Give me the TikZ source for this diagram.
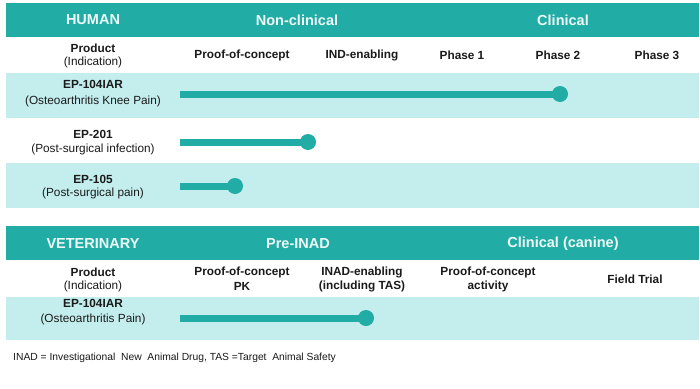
\documentclass[tikz,border=0pt]{standalone}
\usepackage{fontspec}
\setmainfont{Liberation Sans}
\definecolor{teal}{HTML}{22ACA6}
\definecolor{lightrow}{HTML}{C4EEEE}
\definecolor{headtxt}{HTML}{EEFAF8}
\definecolor{txt}{HTML}{1A1A1A}
\begin{document}
\begin{tikzpicture}[x=1pt,y=-1pt,
  band/.style={fill=teal,draw=none},
  lrow/.style={fill=lightrow,draw=none},
  htext/.style={text=headtxt,font=\fontsize{14.5}{17}\selectfont\bfseries,inner sep=0pt},
  ctext/.style={text=txt,font=\fontsize{11.8}{14}\selectfont\bfseries,inner sep=0pt},
  rtext/.style={text=txt,font=\fontsize{11.8}{14}\selectfont,inner sep=0pt},
  ftext/.style={text=txt,font=\fontsize{10.3}{12}\selectfont,inner sep=0pt,anchor=west},
  bar/.style={draw=teal,line width=7pt},
  dot/.style={circle,fill=teal,minimum size=16pt,inner sep=0pt,draw=none}]
\useasboundingbox (0,0) rectangle (700,388);
\fill[white] (0,0) rectangle (700,388);
% human table
\fill[band] (6,3) rectangle (699,37);
\fill[lrow] (6,73) rectangle (699,118);
\fill[lrow] (6,163) rectangle (699,208);
% veterinary table
\fill[band] (6,226) rectangle (699,260);
\fill[lrow] (6,297) rectangle (699,340);

% human header
\node[htext] (hh) at (93,20) {HUMAN};
\node[htext] (hn) at (297,20) {Non-clinical};
\node[htext] (hc) at (563,20) {Clinical};
\node[ctext] (hp1) at (93,48) {Product};
\node[rtext] (hp2) at (93,62) {(Indication)};
\node[ctext] (hpoc) at (242,55) {Proof-of-concept};
\node[ctext] (hind) at (362,55) {IND-enabling};
\node[ctext] (ph1) at (462,55) {Phase 1};
\node[ctext] (ph2) at (558,55) {Phase 2};
\node[ctext] (ph3) at (657,55) {Phase 3};

% human rows
\node[ctext] (r1a) at (93,84) {EP-104IAR};
\node[rtext] (r1b) at (93,101) {(Osteoarthritis Knee Pain)};
\node[ctext] (r2a) at (93,134) {EP-201};
\node[rtext] (r2b) at (93,149) {(Post-surgical infection)};
\node[ctext] (r3a) at (93,179) {EP-105};
\node[rtext] (r3b) at (93,193) {(Post-surgical pain)};

\coordinate (s1) at (180,94);
\node[dot] (e1) at (560,94) {};
\draw[bar] (s1) -- (e1.center);
\coordinate (s2) at (180,142);
\node[dot] (e2) at (308,142) {};
\draw[bar] (s2) -- (e2.center);
\coordinate (s3) at (180,186);
\node[dot] (e3) at (235,186) {};
\draw[bar] (s3) -- (e3.center);

% veterinary header
\node[htext] (vh) at (93,244) {VETERINARY};
\node[htext] (vn) at (298,244) {Pre-INAD};
\node[htext] (vc) at (563,244) {Clinical (canine)};
\node[ctext] (vp1) at (93,272) {Product};
\node[rtext] (vp2) at (93,286) {(Indication)};
\node[ctext] (vpoc1) at (242,272) {Proof-of-concept};
\node[ctext] (vpoc2) at (242,286) {PK};
\node[ctext] (vin1) at (362,272) {INAD-enabling};
\node[ctext] (vin2) at (362,286) {(including TAS)};
\node[ctext] (vpa1) at (488,272) {Proof-of-concept};
\node[ctext] (vpa2) at (488,286) {activity};
\node[ctext] (vft) at (635,279) {Field Trial};

% veterinary row
\node[ctext] (v1a) at (93,303) {EP-104IAR};
\node[rtext] (v1b) at (93,319) {(Osteoarthritis Pain)};
\coordinate (s4) at (180,318);
\node[dot] (e4) at (366,318) {};
\draw[bar] (s4) -- (e4.center);

% footnote
\node[ftext] (fn) at (13,358) {INAD = Investigational\ \ New\ \ Animal Drug, TAS =Target\ \ Animal Safety};
\end{tikzpicture}
\end{document}
